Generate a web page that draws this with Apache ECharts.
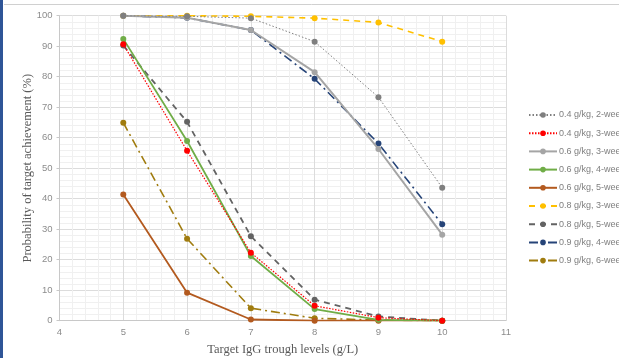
<!DOCTYPE html>
<html>
<head>
<meta charset="utf-8">
<script src="https://cdn.jsdelivr.net/npm/echarts@6/dist/echarts.min.js"></script>
<style>html,body{margin:0;padding:0;background:#fff;}#c{width:619px;height:358px;}</style>
</head>
<body>
<div id="c"></div>
<script>
var xValues = [5, 6, 7, 8, 9, 10];
var seriesNames = ['0.4 g/kg, 2-wee', '0.4 g/kg, 3-wee', '0.6 g/kg, 3-wee', '0.6 g/kg, 4-wee', '0.6 g/kg, 5-wee', '0.8 g/kg, 3-wee', '0.8 g/kg, 5-wee', '0.9 g/kg, 4-wee', '0.9 g/kg, 6-wee'];
var s04w2 = [100, 99.8, 99.2, 91.5, 73.3, 43.6];
var s04w3 = [90.6, 55.7, 22.3, 4.9, 1.0, 0];
var s06w3 = [100, 99.3, 95.3, 81.5, 56.3, 28.2];
var s06w4 = [92.4, 58.9, 21.2, 3.8, 0.3, 0];
var s06w5 = [41.4, 9.2, 0.4, 0, 0, 0];
var s08w3 = [100, 100, 99.8, 99.2, 97.8, 91.5];
var s08w5 = [90.2, 65.2, 27.7, 6.9, 1.4, 0];
var s09w4 = [100, 99.3, 95.3, 79.3, 58.1, 31.6];
var s09w6 = [64.9, 26.9, 4.1, 0.8, 0.2, 0];
var xTicks = [4, 5, 6, 7, 8, 9, 10, 11];
var yTicks = [0, 10, 20, 30, 40, 50, 60, 70, 80, 90, 100];

var allValues = [s04w2, s04w3, s06w3, s06w4, s06w5, s08w3, s08w5, s09w4, s09w6];
var styles = [
  {color: '#7f7f7f', width: 1, type: [1.5, 2]},
  {color: '#ff0000', width: 1.2, type: [1.5, 1.5]},
  {color: '#a5a5a5', width: 2, type: 'solid'},
  {color: '#70ad47', width: 1.8, type: 'solid'},
  {color: '#b35a1f', width: 1.8, type: 'solid'},
  {color: '#ffc000', width: 1.6, type: [6, 5]},
  {color: '#636363', width: 1.8, type: [6, 5]},
  {color: '#264478', width: 1.6, type: [9, 4, 2, 4]},
  {color: '#a07c0f', width: 1.6, type: [9, 4, 2, 4]}
];

function pairs(vals) {
  return xValues.map(function (x, i) { return [x, vals[i]]; });
}

var series = allValues.map(function (vals, i) {
  var st = styles[i];
  return {
    name: seriesNames[i],
    type: 'line',
    data: pairs(vals),
    symbol: 'circle',
    symbolSize: 6,
    itemStyle: {color: st.color},
    lineStyle: {color: st.color, width: st.width, type: st.type},
    z: 10 - i
  };
});

var chart = echarts.init(document.getElementById('c'), null, {renderer: 'canvas'});
chart.setOption({
  animation: false,
  backgroundColor: '#ffffff',
  graphic: [
    {type: 'rect', shape: {x: 0, y: 0, width: 3, height: 358}, style: {fill: '#2f5597'}},
    {type: 'line', shape: {x1: 4, y1: 4.5, x2: 619, y2: 4.5}, style: {stroke: '#d0d0d0', lineWidth: 1}}
  ],
  grid: {left: 59.5, right: 113, top: 15.7, bottom: 37.3, containLabel: false, outerBoundsMode: 'none'},
  legend: {
    orient: 'vertical',
    left: 528,
    top: 109,
    padding: 0,
    itemWidth: 28,
    itemHeight: 7,
    itemGap: 6.2,
    itemStyle: {borderWidth: 0},
    textStyle: {color: '#7f7f7f', fontSize: 9, fontFamily: 'Liberation Sans', padding: [0, 0, 0, -3], lineHeight: 12},
    data: seriesNames
  },
  xAxis: {
    type: 'value',
    min: xTicks[0],
    max: xTicks[xTicks.length - 1],
    interval: 1,
    name: 'Target IgG trough levels (g/L)',
    nameLocation: 'middle',
    nameGap: 23,
    nameMoveOverlap: false,
    nameTextStyle: {fontFamily: 'Liberation Serif', fontSize: 12.5, color: '#595959'},
    axisLine: {show: true, lineStyle: {color: '#c8c8c8', width: 1}},
    axisTick: {show: false},
    axisLabel: {color: '#8c8c8c', fontSize: 9.5, fontFamily: 'Liberation Sans', margin: 7},
    splitLine: {show: true, lineStyle: {color: '#dcdcdc', width: 1}},
    minorTick: {show: false, splitNumber: 5},
    minorSplitLine: {show: true, lineStyle: {color: '#f0f0f0', width: 1}}
  },
  yAxis: {
    type: 'value',
    min: yTicks[0],
    max: yTicks[yTicks.length - 1],
    interval: 10,
    name: 'Probability of target achievement (%)',
    nameLocation: 'middle',
    nameGap: 25,
    nameMoveOverlap: false,
    nameRotate: 90,
    nameTextStyle: {fontFamily: 'Liberation Serif', fontSize: 12.5, color: '#595959'},
    axisLine: {show: true, lineStyle: {color: '#c8c8c8', width: 1}},
    axisTick: {show: true, length: 3, lineStyle: {color: '#c8c8c8'}},
    axisLabel: {color: '#8c8c8c', fontSize: 9.5, fontFamily: 'Liberation Sans', margin: 7},
    splitLine: {show: true, lineStyle: {color: '#dcdcdc', width: 1}},
    minorTick: {show: false, splitNumber: 5},
    minorSplitLine: {show: true, lineStyle: {color: '#f0f0f0', width: 1}}
  },
  series: series
});
</script>
</body>
</html>
